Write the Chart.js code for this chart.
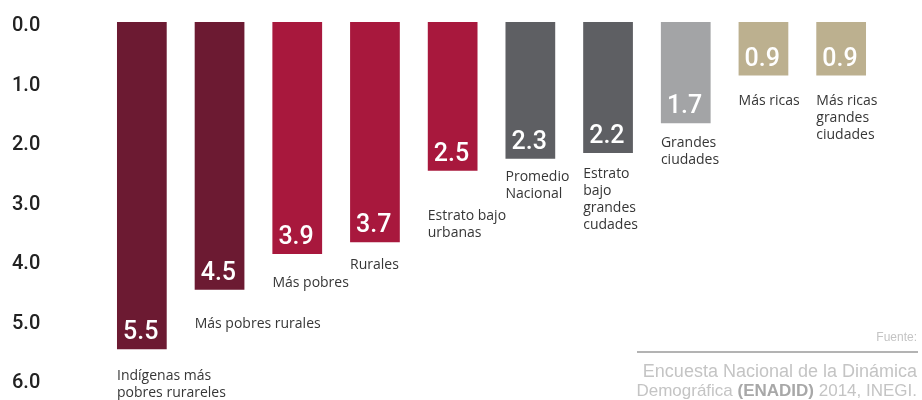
<!DOCTYPE html>
<html>
<head>
<meta charset="utf-8">
<script src="https://cdn.jsdelivr.net/npm/chart.js@4"></script>
<style>
  html, body { margin: 0; padding: 0; background: #fff; }
  #wrap { width: 922px; height: 400px; position: relative; }
</style>
</head>
<body>
<div id="wrap"><canvas id="hijosChart"></canvas></div>
<script>
// Number of children per woman by population group
const categories = [
    ['Indígenas más', 'pobres rurareles'],
    ['Más pobres rurales'],
    ['Más pobres'],
    ['Rurales'],
    ['Estrato bajo', 'urbanas'],
    ['Promedio', 'Nacional'],
    ['Estrato', 'bajo', 'grandes', 'cudades'],
    ['Grandes', 'ciudades'],
    ['Más ricas'],
    ['Más ricas', 'grandes', 'ciudades']
];
const values = [5.5, 4.5, 3.9, 3.7, 2.5, 2.3, 2.2, 1.7, 0.9, 0.9];
const tickValues = [0, 1, 2, 3, 4, 5, 6];

const barColors = [
    '#6c1a32', '#6c1a32',               // maroon
    '#a8183d', '#a8183d', '#a8183d',    // crimson
    '#5e5f63', '#5e5f63',               // dark gray
    '#a3a4a6',                          // light gray
    '#bcb08f', '#bcb08f'                // tan
];

// distance from bar end to first label line (px)
const labelGap = [27, 34, 29, 23, 45, 18, 21, 20, 25, 25];

const barLabels = {
    id: 'barLabels',
    afterDatasetsDraw(chart) {
        const ctx = chart.ctx;
        const meta = chart.getDatasetMeta(0);
        ctx.save();
        meta.data.forEach((bar, i) => {
            const left = bar.x - bar.width / 2;
            const end = bar.y;

            // value inside the bar
            ctx.fillStyle = '#ffffff';
            ctx.font = '500 25px Roboto';
            ctx.textAlign = 'left';
            ctx.textBaseline = 'alphabetic';
            ctx.fillText(values[i].toFixed(1), left + 6, end - 10);

            // category name under the bar
            ctx.fillStyle = '#363636';
            ctx.font = '14px "Open Sans"';
            ctx.textBaseline = 'middle';
            categories[i].forEach((line, j) => {
                ctx.fillText(line, left, end + labelGap[i] + j * 17);
            });
        });
        ctx.restore();
    }
};

const sourceNote = {
    id: 'sourceNote',
    afterDraw(chart) {
        const ctx = chart.ctx;
        const right = 917;
        ctx.save();
        ctx.textAlign = 'right';
        ctx.textBaseline = 'middle';
        ctx.fillStyle = '#c4c4c4';
        ctx.font = '12px "Liberation Sans"';
        ctx.fillText('Fuente:', right, 338);

        ctx.strokeStyle = '#b3b3b3';
        ctx.lineWidth = 2;
        ctx.beginPath();
        ctx.moveTo(637, 352);
        ctx.lineTo(918, 352);
        ctx.stroke();

        ctx.font = '18px "Liberation Sans"';
        ctx.fillText('Encuesta Nacional de la Dinámica', right, 372);

        // second line with bold survey acronym
        const tail = ' 2014, INEGI.';
        const bold = '(ENADID)';
        const head = 'Demográfica ';
        let x = right;
        ctx.font = '17px "Liberation Sans"';
        ctx.fillText(tail, x, 391);
        x -= ctx.measureText(tail).width;
        ctx.font = 'bold 17px "Liberation Sans"';
        ctx.fillStyle = '#a8a8a8';
        ctx.fillText(bold, x, 391);
        x -= ctx.measureText(bold).width;
        ctx.font = '17px "Liberation Sans"';
        ctx.fillStyle = '#c4c4c4';
        ctx.fillText(head, x, 391);
        ctx.restore();
    }
};

const ctx = document.getElementById('hijosChart').getContext('2d');

new Chart(ctx, {
    type: 'bar',
    data: {
        labels: categories.map(c => c.join(' ')),
        datasets: [{
            data: values,
            backgroundColor: barColors,
            borderWidth: 0,
            barPercentage: 0.64,
            categoryPercentage: 1.0
        }]
    },
    options: {
        responsive: true,
        maintainAspectRatio: false,
        animation: false,
        layout: {
            padding: { top: 22, right: 42, bottom: 21, left: 12 }
        },
        plugins: {
            legend: { display: false },
            tooltip: { enabled: false }
        },
        scales: {
            x: {
                display: false
            },
            y: {
                reverse: true,
                min: 0,
                max: 6,
                afterBuildTicks: scale => {
                    scale.ticks = tickValues.map(v => ({ value: v }));
                },
                afterFit: scale => {
                    scale.width = 91;
                },
                grid: { display: false },
                border: { display: false },
                ticks: {
                    crossAlign: 'far',
                    padding: 0,
                    labelOffset: 4,
                    color: '#222222',
                    font: { family: 'Roboto', size: 20, weight: '500' },
                    callback: v => Number(v).toFixed(1)
                }
            }
        }
    },
    plugins: [barLabels, sourceNote]
});
</script>
</body>
</html>
